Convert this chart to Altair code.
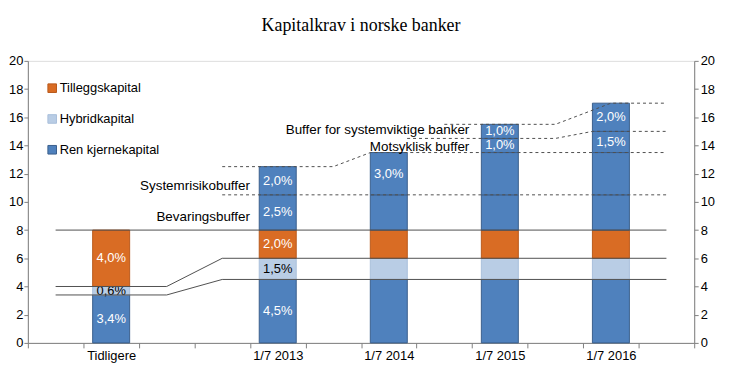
import altair as alt
import pandas as pd

# ---------------- data ----------------
categories = ["Tidligere", "1/7 2013", "1/7 2014", "1/7 2015", "1/7 2016"]
slots = [1, 4, 6, 8, 10]  # slot index of each category on a 12-slot axis

ren = [3.4, 4.5, 4.5, 4.5, 4.5]
hybrid = [0.6, 1.5, 1.5, 1.5, 1.5]
tillegg = [4.0, 2.0, 2.0, 2.0, 2.0]
bevaring = [0.0, 2.5, 2.5, 2.5, 2.5]
systemrisiko = [0.0, 2.0, 3.0, 3.0, 3.0]
motsyklisk = [0.0, 0.0, 0.0, 1.0, 1.5]
systemviktig = [0.0, 0.0, 0.0, 1.0, 2.0]

show_ren = [True, True, False, False, False]
show_hybrid = [True, True, False, False, False]
show_tillegg = [True, True, False, False, False]
show_bevaring = [False, True, False, False, False]
show_systemrisiko = [False, True, True, False, False]
show_motsyklisk = [False, False, False, True, True]
show_systemviktig = [False, False, False, True, True]

legend_order = ["Tilleggskapital", "Hybridkapital", "Ren kjernekapital"]
legend_colors = ["#D96C24", "#B9CDE5", "#4F81BD"]
stroke_colors = ["#B85A1C", "#A9BFDB", "#3A5F8C"]

# requirement lines (x in slot units, y in percent)
solid_lines = {
    "ren_min": ([0.5, 2.5, 3.5, 11.5], [3.4, 3.4, 4.5, 4.5]),
    "kjerne_min": ([0.5, 2.5, 3.5, 11.5], [4.0, 4.0, 6.0, 6.0]),
    "total_min": ([0.5, 11.5], [8.0, 8.0]),
}
dashed_lines = {
    "systemrisiko": ([3.5, 11.5], [10.5, 10.5]),
    "bevaring_sr": ([3.5, 5.5, 6.17, 11.5], [12.5, 12.5, 13.5, 13.5]),
    "motsyklisk": ([6.83, 9.5, 10.17, 11.5], [14.5, 14.5, 15.0, 15.0]),
    "systemviktig": ([7.5, 9.5, 10.5, 11.5], [15.5, 15.5, 17.0, 17.0]),
}

ann_text = ["Bevaringsbuffer", "Systemrisikobuffer", "Motsyklisk buffer",
            "Buffer for systemviktige banker"]
ann_x = [4.0, 4.0, 7.95, 7.95]
ann_y = [8.9, 11.15, 13.9, 15.1]

# ---------------- build tables ----------------
components = [
    (ren, show_ren, "Ren kjernekapital"),
    (hybrid, show_hybrid, "Hybridkapital"),
    (tillegg, show_tillegg, "Tilleggskapital"),
    (bevaring, show_bevaring, "Ren kjernekapital"),
    (systemrisiko, show_systemrisiko, "Ren kjernekapital"),
    (motsyklisk, show_motsyklisk, "Ren kjernekapital"),
    (systemviktig, show_systemviktig, "Ren kjernekapital"),
]
rows = []
for i, cat in enumerate(categories):
    base = 0.0
    for vals, shows, comp in components:
        v = vals[i]
        if v <= 0:
            continue
        rows.append({
            "cat": cat,
            "center": slots[i] + 0.5,
            "y0": base,
            "y1": base + v,
            "comp": comp,
            "label": (f"{v:.1f}%".replace(".", ",")) if shows[i] else "",
            "tcol": "black" if comp == "Hybridkapital" else "white",
        })
        base += v
seg = pd.DataFrame(rows)

line_rows = []
for name, (xs, ys) in solid_lines.items():
    for k, (xx, yy) in enumerate(zip(xs, ys)):
        line_rows.append({"line": name, "order": k, "x": xx, "y": yy, "style": "solid"})
for name, (xs, ys) in dashed_lines.items():
    for k, (xx, yy) in enumerate(zip(xs, ys)):
        line_rows.append({"line": name, "order": k, "x": xx, "y": yy, "style": "dashed"})
lines = pd.DataFrame(line_rows)

ann = pd.DataFrame({"text": ann_text, "x": ann_x, "y": ann_y})

# ---------------- encodings ----------------
label_expr = " : ".join(
    f"datum.value == {s} ? '{c}'" for s, c in zip(slots, categories)) + " : ''"

W = 671
H = 284
slot_px = W / 12.0
half_bar = 0.333

xscale = alt.Scale(domain=[0, 12], nice=False, zero=False)
yscale = alt.Scale(domain=[0, 20], nice=False, zero=True)

x_axis = alt.Axis(values=list(range(13)), labelExpr=label_expr,
                  labelOffset=slot_px / 2, grid=False, title=None,
                  tickSize=5, labelPadding=2, labelOverlap=False,
                  labelFlush=False, labelFontSize=13, labelColor="black",
                  labelFont="Liberation Sans", domainColor="#808080",
                  tickColor="#808080")
y_left = alt.Axis(values=list(range(0, 21, 2)), grid=False, title=None,
                  tickSize=4, labelPadding=1, labelFontSize=13,
                  labelColor="black", labelFont="Liberation Sans",
                  domainColor="#808080", tickColor="#808080")
y_right = alt.Axis(orient="right", values=list(range(0, 21, 2)), grid=False,
                   title=None, tickSize=4, labelPadding=2, labelFontSize=13,
                   labelColor="black", labelFont="Liberation Sans",
                   domainColor="#808080", tickColor="#808080")

base = alt.Chart(seg).transform_calculate(
    xa=f"datum.center - {half_bar}", xb=f"datum.center + {half_bar}",
    ym="(datum.y0 + datum.y1) / 2")

bars = base.mark_bar(strokeWidth=1).encode(
    x=alt.X("xa:Q", scale=xscale, axis=x_axis),
    x2="xb:Q",
    y=alt.Y("y0:Q", scale=yscale, axis=y_left),
    y2="y1:Q",
    color=alt.Color("comp:N", scale=alt.Scale(domain=legend_order, range=legend_colors),
                    legend=alt.Legend(title=None, orient="none", legendX=18, legendY=21,
                                      symbolType="square", symbolSize=75,
                                      symbolStrokeColor="#404040", symbolStrokeWidth=1,
                                      labelFontSize=13, labelFont="Liberation Sans",
                                      labelColor="black", rowPadding=17, labelOffset=1)),
    stroke=alt.Stroke("comp:N", scale=alt.Scale(domain=legend_order, range=stroke_colors),
                      legend=None),
)

seg_labels = base.mark_text(fontSize=13, font="Liberation Sans", baseline="middle").encode(
    x=alt.X("center:Q", scale=xscale, axis=x_axis),
    y=alt.Y("ym:Q", scale=yscale, axis=None),
    text="label:N",
    fill=alt.Fill("tcol:N", scale=None),
)

solid = alt.Chart(lines).transform_filter("datum.style == 'solid'").mark_line(
    color="#505050", strokeWidth=1).encode(
    x=alt.X("x:Q", scale=xscale, axis=x_axis),
    y=alt.Y("y:Q", scale=yscale, axis=None),
    detail="line:N", order="order:Q")

dashed = alt.Chart(lines).transform_filter("datum.style == 'dashed'").mark_line(
    color="#505050", strokeWidth=1, strokeDash=[3, 3]).encode(
    x=alt.X("x:Q", scale=xscale, axis=x_axis),
    y=alt.Y("y:Q", scale=yscale, axis=y_right),
    detail="line:N", order="order:Q")

annot = alt.Chart(ann).mark_text(align="right", baseline="middle", fontSize=13.5,
                                 font="Liberation Sans", color="black").encode(
    x=alt.X("x:Q", scale=xscale, axis=x_axis),
    y=alt.Y("y:Q", scale=yscale, axis=None),
    text="text:N")

chart = alt.layer(bars, seg_labels, solid, dashed, annot).resolve_axis(
    y="independent").properties(
    width=W, height=H,
    padding={"left": 0, "right": 0, "top": 8, "bottom": 0},
    title=alt.Title("Kapitalkrav i norske banker", font="Liberation Serif",
                    fontSize=18, fontWeight="normal", color="black",
                    anchor="middle", offset=20),
).configure_view(stroke=None).configure(background="white")

chart.save("out.html", embed_options={"renderer": "svg", "actions": False})
